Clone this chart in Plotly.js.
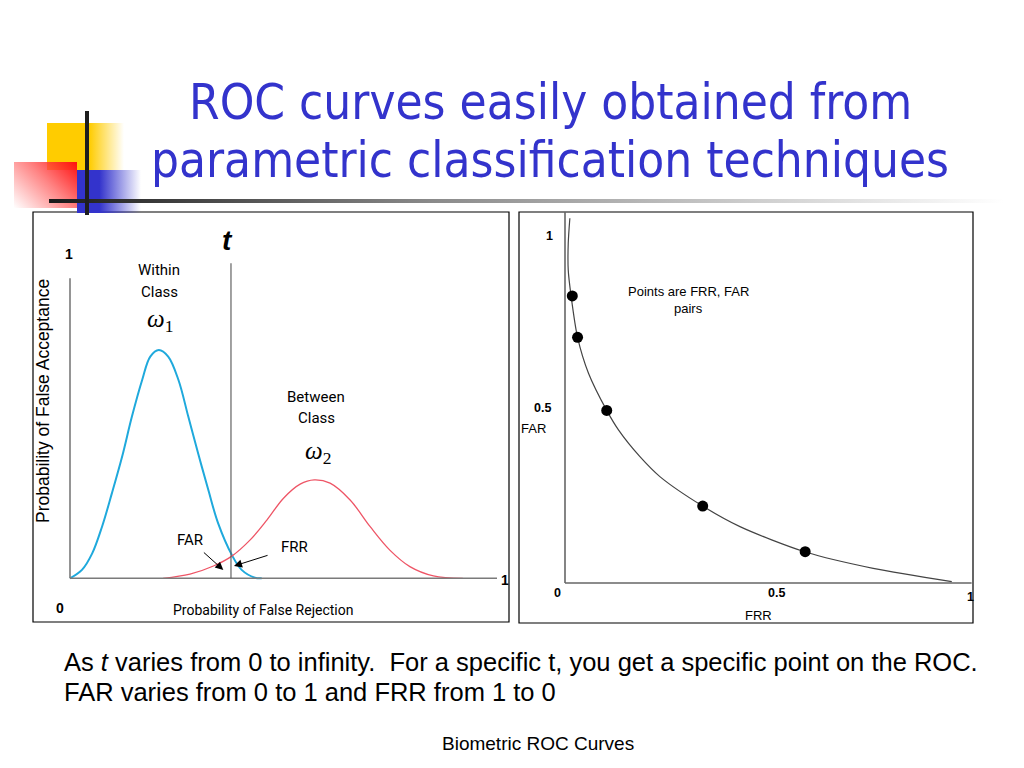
<!DOCTYPE html>
<html>
<head>
<meta charset="utf-8">
<script src="https://cdn.plot.ly/plotly-3.0.1.min.js"></script>
<style>
  html, body { margin: 0; padding: 0; background: #ffffff; }
  #wrap { position: relative; width: 1024px; height: 768px; overflow: hidden; }
  #chart { position: absolute; left: 0; top: 0; width: 1024px; height: 768px; }
  .deco { position: absolute; pointer-events: none; z-index: 5; }
  #yellow { left: 47px; top: 123px; width: 77px; height: 47px;
    background: linear-gradient(to right, #ffcc00 0%, #ffcc00 55%, rgba(255,204,0,0) 100%); }
  #red { left: 14px; top: 162px; width: 63px; height: 46px;
    background: linear-gradient(225deg, #ff1010 0%, rgba(255,90,90,0.75) 45%, rgba(255,255,255,0) 100%); }
  #blue { left: 77px; top: 170px; width: 64px; height: 43px;
    background: linear-gradient(to right, #3333cc 0%, #3333cc 35%, rgba(51,51,204,0) 100%); }
  #vline { left: 85px; top: 111px; width: 4px; height: 104px; background: #1e1e1e; }
  #hline { left: 49px; top: 199px; width: 955px; height: 4px;
    background: linear-gradient(to right, #1a1a1a 0%, #8a8a8a 40%, #d0d0d0 75%, #ffffff 100%); }
</style>
</head>
<body>
<div id="wrap">
  <div id="chart"></div>
  <div class="deco" id="yellow"></div>
  <div class="deco" id="red"></div>
  <div class="deco" id="blue"></div>
  <div class="deco" id="hline"></div>
  <div class="deco" id="vline"></div>
</div>
<script>
// ---------------- data ----------------
// Left panel: class-conditional densities (x: score, y: density)
const withinX  = [0, 0.028, 0.052, 0.075, 0.098, 0.122, 0.145, 0.169, 0.188, 0.208, 0.230, 0.254, 0.277, 0.300, 0.324, 0.347, 0.379, 0.402, 0.433, 0.449];
const withinY  = [0, 0.028, 0.083, 0.172, 0.283, 0.405, 0.539, 0.661, 0.739, 0.761, 0.739, 0.661, 0.539, 0.417, 0.294, 0.183, 0.078, 0.028, 0.002, 0];
const betweenX = [0.218, 0.281, 0.336, 0.379, 0.422, 0.461, 0.500, 0.539, 0.572, 0.609, 0.656, 0.703, 0.749, 0.796, 0.851, 0.920];
const betweenY = [0, 0.014, 0.041, 0.074, 0.128, 0.194, 0.267, 0.314, 0.328, 0.317, 0.261, 0.172, 0.094, 0.039, 0.008, 0];
const thresholdT = 0.377;

// Right panel: ROC curve (FRR, FAR) and sample operating points
const rocFRR = [0.012, 0.008, 0.008, 0.015, 0.031, 0.058, 0.103, 0.132, 0.185, 0.235, 0.340, 0.432, 0.594, 0.761, 0.955];
const rocFAR = [1.048, 0.976, 0.899, 0.825, 0.706, 0.603, 0.496, 0.440, 0.363, 0.305, 0.221, 0.162, 0.089, 0.042, 0.004];
const ptsFRR = [0.018, 0.031, 0.103, 0.340, 0.593];
const ptsFAR = [0.825, 0.706, 0.496, 0.221, 0.090];

// Tick labels
const leftTickLabels  = ['1', '0', '1'];
const rightTickLabels = ['1', '0.5', '0', '0.5', '1'];

// Texts
const titleLines = ['ROC curves easily obtained from', 'parametric classification techniques'];
const bodyLines = ['As <i>t</i> varies from 0 to infinity.\u00a0 For a specific t, you get a specific point on the ROC.',
                   'FAR varies from 0 to 1 and FRR from 1 to 0'];
const footer = 'Biometric ROC Curves';

// ---------------- layout helpers ----------------
const W = 1024, H = 768;
const SANS = '"Liberation Sans", Arial, sans-serif';
const NARROWISH = 'Roboto, "Liberation Sans", sans-serif';
const TITLEF = '"DejaVu Sans Condensed", "DejaVu Sans", sans-serif';
const SERIF = '"Liberation Serif", "DejaVu Serif", serif';

function P(x, y) { return { x: x / W, y: 1 - y / H, xref: 'paper', yref: 'paper' }; }
function txt(text, x, y, family, size, extra) {
  return Object.assign(P(x, y), {
    text: text, showarrow: false, xanchor: 'center', yanchor: 'middle',
    font: { family: family, size: size, color: '#000000' }
  }, extra || {});
}
// label with arrow: text centred at (tx,ty), arrow head at (hx,hy)
function arrowLabel(text, tx, ty, hx, hy, family, size, gap) {
  return Object.assign(P(hx, hy), {
    text: text, showarrow: true, ax: tx - hx, ay: ty - hy,
    font: { family: family, size: size, color: '#000000' },
    arrowhead: 2, arrowsize: 1.6, arrowwidth: 1, arrowcolor: '#000000',
    startstandoff: gap
  });
}
function axisGeom(g) {
  return {
    xd: [(g.ox + g.xr[0] * g.sx) / W, (g.ox + g.xr[1] * g.sx) / W],
    yd: [1 - (g.oy - g.yr[0] * g.sy) / H, 1 - (g.oy - g.yr[1] * g.sy) / H]
  };
}
const Lg = { ox: 70, oy: 578.3, sx: 427, sy: 300, xr: [-0.02, 1.02], yr: [-0.02, 1.10] };
const Rg = { ox: 565, oy: 583, sx: 405, sy: 348, xr: [-0.03, 1.03], yr: [-0.03, 1.08] };
const La = axisGeom(Lg), Ra = axisGeom(Rg);

const hidden = { visible: false, showgrid: false, zeroline: false, fixedrange: true };

// ---------------- traces ----------------
const traces = [
  { x: withinX, y: withinY, xaxis: 'x', yaxis: 'y', mode: 'lines', type: 'scatter',
    line: { color: '#1fa9dc', width: 2, shape: 'spline', smoothing: 1 }, hoverinfo: 'skip' },
  { x: betweenX, y: betweenY, xaxis: 'x', yaxis: 'y', mode: 'lines', type: 'scatter',
    line: { color: '#ee5566', width: 1.3, shape: 'spline', smoothing: 1 }, hoverinfo: 'skip' },
  { x: rocFRR, y: rocFAR, xaxis: 'x2', yaxis: 'y2', mode: 'lines', type: 'scatter',
    line: { color: '#444444', width: 1.2, shape: 'spline', smoothing: 0.8 }, hoverinfo: 'skip' },
  { x: ptsFRR, y: ptsFAR, xaxis: 'x2', yaxis: 'y2', mode: 'markers', type: 'scatter',
    marker: { color: '#000000', size: 11 }, hoverinfo: 'skip' }
];

// ---------------- shapes ----------------
const shapes = [
  // panel frames
  { type: 'rect', xref: 'paper', yref: 'paper', x0: 33 / W, x1: 509 / W, y0: 1 - 622 / H, y1: 1 - 212 / H,
    line: { color: '#000000', width: 1.2 } },
  { type: 'rect', xref: 'paper', yref: 'paper', x0: 519 / W, x1: 973 / W, y0: 1 - 623 / H, y1: 1 - 212 / H,
    line: { color: '#000000', width: 1.2 } },
  // left axes
  { type: 'line', xref: 'x', yref: 'y', x0: 0, x1: 0, y0: 0, y1: 1.0, line: { color: '#7a7a7a', width: 1.6 } },
  { type: 'line', xref: 'x', yref: 'y', x0: 0, x1: 1.0, y0: 0, y1: 0, line: { color: '#7a7a7a', width: 1.6 } },
  // threshold t
  { type: 'line', xref: 'x', yref: 'y', x0: thresholdT, x1: thresholdT, y0: 0, y1: 1.05, line: { color: '#555555', width: 1.1 } },
  // right axes
  { type: 'line', xref: 'x2', yref: 'y2', x0: 0, x1: 0, y0: 0, y1: 1.066, line: { color: '#666666', width: 1.6 } },
  { type: 'line', xref: 'x2', yref: 'y2', x0: 0, x1: 1.004, y0: 0, y1: 0, line: { color: '#666666', width: 1.6 } }
];

// ---------------- annotations ----------------
const titleFont = { family: TITLEF, size: 49, color: '#3333cc' };
const ann = [
  // title
  txt(titleLines[0], 550, 102, TITLEF, 49, { font: titleFont }),
  txt(titleLines[1], 550, 161, TITLEF, 49, { font: titleFont }),
  // left panel
  txt('<b>' + leftTickLabels[0] + '</b>', 69, 254, SANS, 14),
  txt('<b>' + leftTickLabels[1] + '</b>', 60, 608, SANS, 14),
  txt('<b>' + leftTickLabels[2] + '</b>', 505, 580, SANS, 14),
  txt('<b><i>t</i></b>', 227, 241, SANS, 28),
  txt('Within', 159, 270, NARROWISH, 15),
  txt('Class', 159, 292, NARROWISH, 15),
  txt('<i>ω</i><sub>1</sub>', 160, 320, SERIF, 25),
  txt('Between', 316, 397, NARROWISH, 15),
  txt('Class', 316, 418, NARROWISH, 15),
  txt('<i>ω</i><sub>2</sub>', 318, 452, SERIF, 25),
  arrowLabel('FAR', 190, 540, 223.3, 570, NARROWISH, 15, 3),
  arrowLabel('FRR', 294, 547, 234, 566, NARROWISH, 15, 12),
  txt('Probability of False Acceptance', 43, 401, SANS, 17.5, { textangle: -90 }),
  txt('Probability of False Rejection', 263, 610, NARROWISH, 14),
  // right panel
  txt('<b>' + rightTickLabels[0] + '</b>', 549, 236, SANS, 12.5),
  txt('<b>' + rightTickLabels[1] + '</b>', 542, 408, SANS, 12.5),
  txt('FAR', 533, 428, SANS, 13),
  txt('<b>' + rightTickLabels[2] + '</b>', 557, 593, SANS, 12.5),
  txt('<b>' + rightTickLabels[3] + '</b>', 776, 593, SANS, 12.5),
  txt('<b>' + rightTickLabels[4] + '</b>', 970, 597, SANS, 12.5),
  txt('FRR', 758, 615, SANS, 13),
  txt('Points are FRR, FAR', 688, 292, SANS, 13),
  txt('pairs', 688, 308, SANS, 13),
  // body text
  txt(bodyLines[0], 62, 662, SANS, 25.5, { xanchor: 'left' }),
  txt(bodyLines[1], 62, 692, SANS, 25.5, { xanchor: 'left' }),
  txt(footer, 538, 743, SANS, 19)
];

const layout = {
  width: W, height: H,
  margin: { l: 0, r: 0, t: 0, b: 0, pad: 0 },
  paper_bgcolor: '#ffffff', plot_bgcolor: 'rgba(0,0,0,0)',
  showlegend: false,
  xaxis:  Object.assign({ domain: La.xd, range: Lg.xr, anchor: 'y' }, hidden),
  yaxis:  Object.assign({ domain: La.yd, range: Lg.yr, anchor: 'x' }, hidden),
  xaxis2: Object.assign({ domain: Ra.xd, range: Rg.xr, anchor: 'y2' }, hidden),
  yaxis2: Object.assign({ domain: Ra.yd, range: Rg.yr, anchor: 'x2' }, hidden),
  shapes: shapes,
  annotations: ann
};

Plotly.newPlot('chart', traces, layout, { staticPlot: true, displayModeBar: false });
</script>
</body>
</html>
